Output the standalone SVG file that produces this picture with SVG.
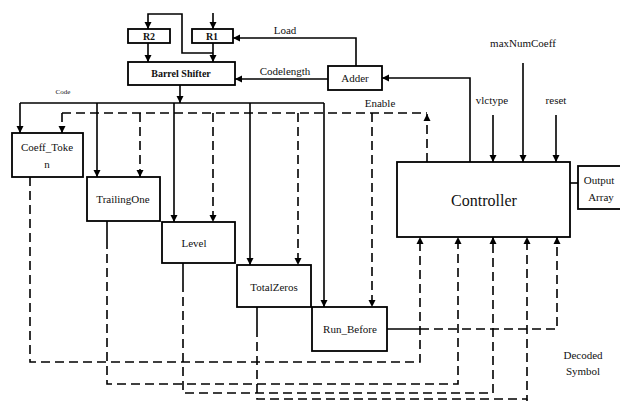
<svg xmlns="http://www.w3.org/2000/svg" width="620" height="401" viewBox="0 0 620 401" font-family="'Liberation Serif', 'DejaVu Serif', serif">
<style>
.box{fill:#fff;stroke:#000;stroke-width:1.8}
.ln{fill:none;stroke:#000;stroke-width:1.6}
.ds{fill:none;stroke:#000;stroke-width:1.6;stroke-dasharray:9 5}
text{font-family:'Liberation Serif','DejaVu Serif',serif;fill:#111;font-size:11px;text-anchor:middle}
.b{font-weight:bold;font-size:10px}
</style>
<defs>
<marker id="ar" viewBox="0 0 10 10" refX="10" refY="5" markerWidth="7" markerHeight="8" markerUnits="userSpaceOnUse" orient="auto">
<path d="M0,0 L10,5 L0,10 z" fill="#000"/>
</marker>
</defs>
<rect width="620" height="401" fill="#fff"/>
<g id="connectors">
<path class="ln" d="M148,43 V62" marker-end="url(#ar)"/>
<path class="ln" d="M213,43 V62" marker-end="url(#ar)"/>
<path class="ln" d="M213,13 V29" marker-end="url(#ar)"/>
<path class="ln" d="M213,53 H182 V14 H148 V29" marker-end="url(#ar)"/>
<path class="ln" d="M356,66 V38 H233" marker-end="url(#ar)"/>
<path class="ln" d="M328,79 H235" marker-end="url(#ar)"/>
<path class="ln" d="M470,162 V78 H382" marker-end="url(#ar)"/>
<path class="ln" d="M523,63 V162" marker-end="url(#ar)"/>
<path class="ln" d="M493,115 V162" marker-end="url(#ar)"/>
<path class="ln" d="M556,115 V162" marker-end="url(#ar)"/>
<path class="ln" d="M180,85 V103" marker-end="url(#ar)"/>
<path class="ln" d="M20,103 H324"/>
<path class="ln" d="M20,103 V133" marker-end="url(#ar)"/>
<path class="ln" d="M97,103 V177" marker-end="url(#ar)"/>
<path class="ln" d="M174,103 V222" marker-end="url(#ar)"/>
<path class="ln" d="M250,103 V265" marker-end="url(#ar)"/>
<path class="ln" d="M324,103 V307" marker-end="url(#ar)"/>
<path class="ds" d="M62,113 H427"/>
<path class="ds" d="M427,162 V114" marker-end="url(#ar)"/>
<path class="ds" d="M62,113 V133" marker-end="url(#ar)"/>
<path class="ds" d="M140,113 V177" marker-end="url(#ar)"/>
<path class="ds" d="M213,113 V222" marker-end="url(#ar)"/>
<path class="ds" d="M298,113 V265" marker-end="url(#ar)"/>
<path class="ds" d="M372,113 V307" marker-end="url(#ar)"/>
<path class="ds" d="M30,177 V362 H420 V237" marker-end="url(#ar)"/>
<path class="ln" d="M107,221 V240"/>
<path class="ds" d="M107,240 V384 H458 V237" marker-end="url(#ar)"/>
<path class="ln" d="M183,263 V283"/>
<path class="ds" d="M183,283 V393 H493 V237" marker-end="url(#ar)"/>
<path class="ln" d="M257,307 V328"/>
<path class="ds" d="M257,328 V399 H527 V237" marker-end="url(#ar)"/>
<path class="ds" d="M527,399 V401"/>
<path class="ln" d="M387,329 H420"/>
<path class="ds" d="M420,329 H557 V237" marker-end="url(#ar)"/>
<path class="ln" d="M570,183 H578"/>
</g>
<g id="R2"><rect class="box" x="128" y="29" width="42" height="14"/><text class="b" x="149" y="40">R2</text></g>
<g id="R1"><rect class="box" x="192" y="29" width="41" height="14"/><text class="b" x="212" y="40">R1</text></g>
<g id="barrel"><rect class="box" x="128" y="62" width="107" height="23"/><text class="b" x="181" y="77">Barrel Shifter</text></g>
<g id="adder"><rect class="box" x="328" y="66" width="54" height="24"/><text x="355" y="82">Adder</text></g>
<g id="coeff"><rect class="box" x="12" y="133" width="71" height="44"/><text x="47" y="151">Coeff_Toke</text><text x="47" y="168">n</text></g>
<g id="trailing"><rect class="box" x="87" y="177" width="73" height="44"/><text x="123" y="203">TrailingOne</text></g>
<g id="level"><rect class="box" x="162" y="222" width="73" height="41"/><text x="194" y="247">Level</text></g>
<g id="totalzeros"><rect class="box" x="237" y="265" width="74" height="42"/><text x="274" y="291">TotalZeros</text></g>
<g id="runbefore"><rect class="box" x="312" y="307" width="75" height="44"/><text x="350" y="333">Run_Before</text></g>
<g id="controller"><rect class="box" x="397" y="162" width="173" height="75"/><text x="484" y="206" style="font-size:16px">Controller</text></g>
<g id="output"><rect class="box" x="578" y="166" width="50" height="43"/><text x="599" y="184">Output</text><text x="601" y="201">Array</text></g>
<g id="labels">
<text x="285" y="34">Load</text>
<text x="285" y="75">Codelength</text>
<text x="63" y="94" style="font-size:7px">Code</text>
<text x="380" y="107">Enable</text>
<text x="523" y="47">maxNumCoeff</text>
<text x="492" y="104">vlctype</text>
<text x="556" y="104">reset</text>
<text x="583" y="359">Decoded</text>
<text x="583" y="375">Symbol</text>
</g>
</svg>
